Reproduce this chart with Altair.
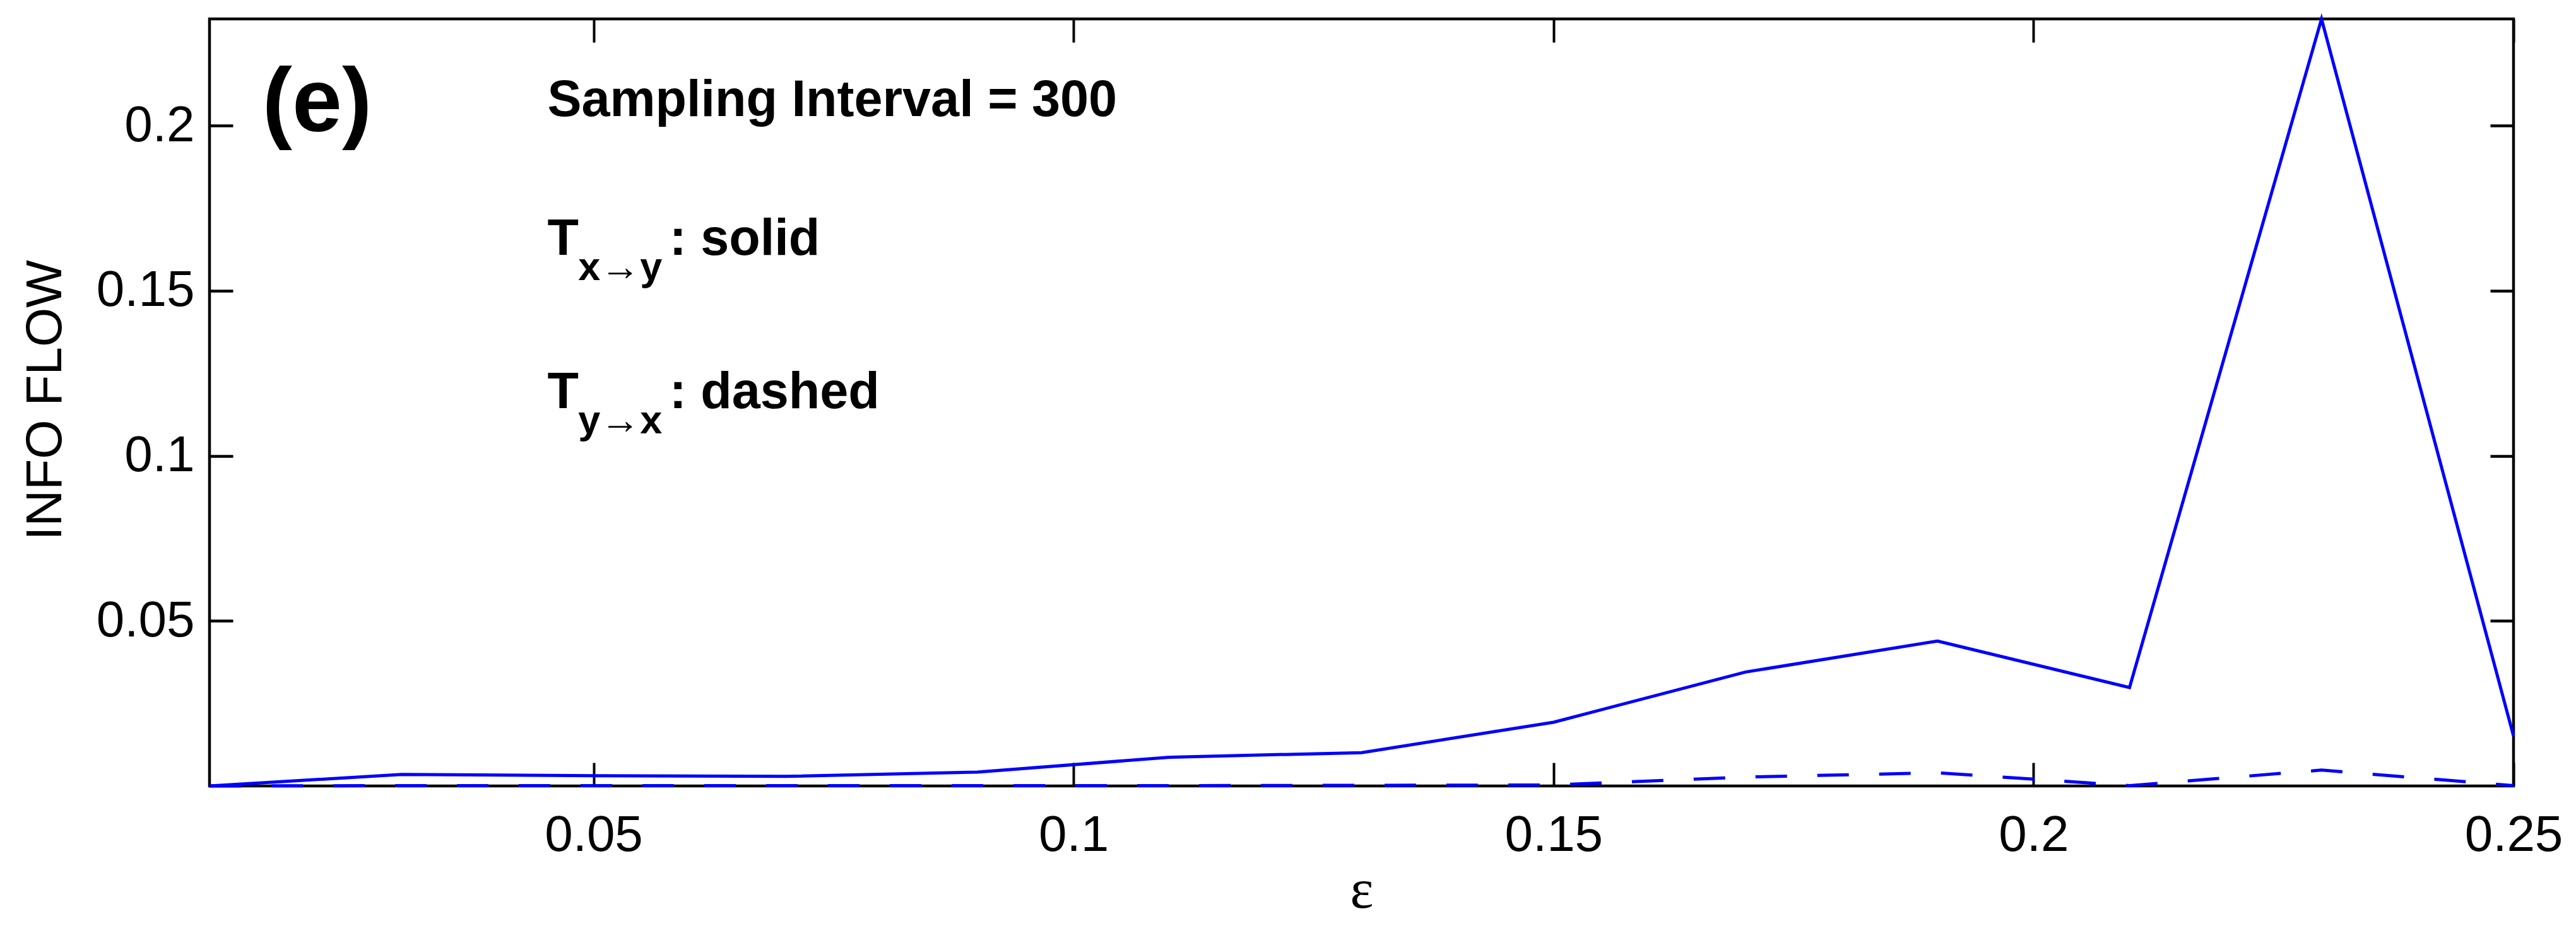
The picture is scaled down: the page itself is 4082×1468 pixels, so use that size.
import altair as alt
import pandas as pd

# ---- data ----
eps = [0.01, 0.03, 0.05, 0.07, 0.09, 0.11, 0.13, 0.15, 0.17, 0.19, 0.21, 0.23, 0.25]
t_xy = [0.0000, 0.0035, 0.0031, 0.0029, 0.0042, 0.0087, 0.0101, 0.0193, 0.0345, 0.0439, 0.0298, 0.2323, 0.0151]
t_yx = [0.0000, 0.0001, 0.0001, 0.0001, 0.0001, 0.0001, 0.0002, 0.0003, 0.0027, 0.0040, 0.0001, 0.0048, 0.0001]
x_ticks = [0.05, 0.1, 0.15, 0.2, 0.25]
y_ticks = [0.05, 0.1, 0.15, 0.2]

# annotation texts and their anchor positions (data units)
panel_label = ["(e)"]
panel_pos = [(0.0155, 0.1983)]
main_texts = ["Sampling Interval = 300", "T", ": solid", "T", ": dashed"]
main_pos = [(0.0452, 0.2028), (0.0452, 0.1608), (0.0579, 0.1608), (0.0452, 0.1144), (0.0579, 0.1144)]
sub_texts = ["x\u2192y", "y\u2192x"]
sub_pos = [(0.0484, 0.1532), (0.0484, 0.1068)]

W, H = 3651, 1216
TICK = 37
SANS = "Liberation Sans, Arial, Helvetica, sans-serif"
SERIF = "Liberation Serif, Times New Roman, serif"
BLUE = "#0000ff"

x_scale = alt.Scale(domain=[min(eps), max(eps)], nice=False, zero=False)
y_scale = alt.Scale(domain=[0, max(t_xy)], nice=False, zero=False)

solid_df = pd.DataFrame({"eps": eps, "flow": t_xy})
dashed_df = pd.DataFrame({"eps": eps, "flow": t_yx})

bottom_axis = alt.Axis(
    orient="bottom", values=x_ticks, format="~g", offset=-TICK, tickSize=TICK,
    tickWidth=4, tickColor="black", domain=False, grid=False,
    labelFont=SANS, labelFontSize=80, labelColor="black", labelPadding=102,
    labelBaseline="alphabetic", labelFlush=False, labelOverlap=False,
    title="\u03b5", titleFont=SERIF, titleFontSize=88, titleFontWeight="normal",
    titleColor="black", titleX=W / 2, titleY=229, titleBaseline="alphabetic",
    titleAlign="center",
)
top_axis = alt.Axis(
    orient="top", values=x_ticks, offset=-TICK, tickSize=TICK, tickWidth=4,
    tickColor="black", domain=False, grid=False, labels=False, title="",
)
left_axis = alt.Axis(
    orient="left", values=y_ticks, format="~g", offset=-TICK, tickSize=TICK,
    tickWidth=4.5, tickColor="black", domain=False, grid=False,
    labelFont=SANS, labelFontSize=80, labelColor="black", labelPadding=24,
    labelFlush=False, labelOverlap=False,
    title="INFO FLOW", titleFont=SANS, titleFontSize=80, titleFontWeight="normal",
    titleColor="black", titleAngle=270, titleX=-273, titleY=604,
    titleBaseline="alphabetic", titleAlign="center",
)
right_axis = alt.Axis(
    orient="right", values=y_ticks, offset=-TICK, tickSize=TICK, tickWidth=4.5,
    tickColor="black", domain=False, grid=False, labels=False, title="",
)

solid = alt.Chart(solid_df).mark_line(color=BLUE, strokeWidth=5).encode(
    x=alt.X("eps:Q", scale=x_scale, axis=bottom_axis),
    y=alt.Y("flow:Q", scale=y_scale, axis=left_axis),
)
dashed = alt.Chart(dashed_df).mark_line(color=BLUE, strokeWidth=5, strokeDash=[50, 48]).encode(
    x=alt.X("eps:Q", scale=x_scale, axis=top_axis),
    y=alt.Y("flow:Q", scale=y_scale, axis=right_axis),
)


def text_layer(texts, pos, size, weight):
    df = pd.DataFrame({
        "tx": [p[0] for p in pos],
        "ty": [p[1] for p in pos],
        "label": texts,
    })
    return alt.Chart(df).mark_text(
        align="left", baseline="alphabetic", font=SANS, fontSize=size,
        fontWeight=weight, color="black",
    ).encode(
        x=alt.X("tx:Q", scale=x_scale, axis=None),
        y=alt.Y("ty:Q", scale=y_scale, axis=None),
        text="label:N",
    )


panel = text_layer(panel_label, panel_pos, 142, "bold")
mains = text_layer(main_texts, main_pos, 81, "bold")
subs = text_layer(sub_texts, sub_pos, 63, "bold")

chart = alt.layer(solid, dashed, panel, mains, subs).resolve_axis(
    x="independent", y="independent"
).properties(
    width=W, height=H,
    autosize=alt.AutoSizeParams(type="none"),
    padding={"left": 324, "top": 22, "right": 80, "bottom": 210},
    background="white",
).configure_view(
    stroke="black", strokeWidth=4.5
)

chart.save("out.html", embed_options={"renderer": "svg", "actions": False})
